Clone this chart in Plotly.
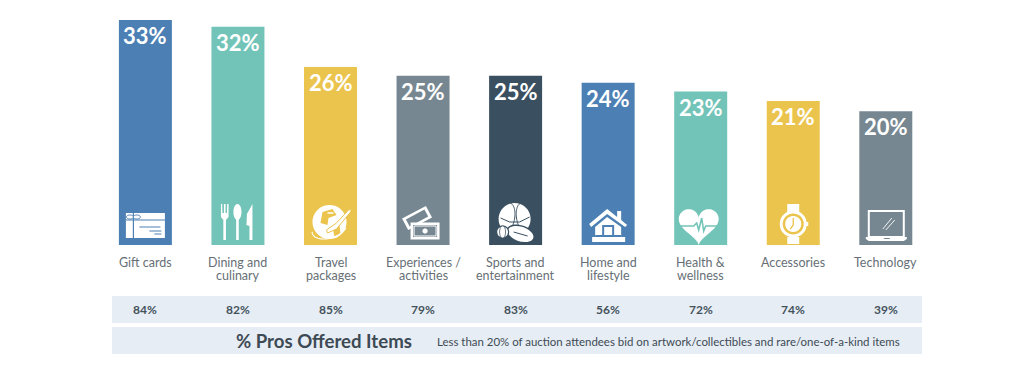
import math
import plotly.graph_objects as go

categories_line1 = ["Gift cards", "Dining and", "Travel", "Experiences /", "Sports and", "Home and", "Health &", "Accessories", "Technology"]
categories_line2 = ["", "culinary", "packages", "activities", "entertainment", "lifestyle", "wellness", "", ""]
bar_values = [33.0, 32.0, 26.1, 24.8, 24.8, 23.8, 22.5, 21.1, 19.6]
bar_labels = ["33%", "32%", "26%", "25%", "25%", "24%", "23%", "21%", "20%"]
pros_offered = ["84%", "82%", "85%", "79%", "83%", "56%", "72%", "74%", "39%"]
colors = ["#4c80b4", "#73c4b8", "#ebc44e", "#778791", "#3a5060", "#4c80b4", "#73c4b8", "#ebc44e", "#778791"]
footer_title = "% Pros Offered Items"
footer_note = "Less than 20% of auction attendees bid on artwork/collectibles and rare/one-of-a-kind items"

# the page puts the figure 8px in from the top-left corner of the window
OFF = 8
W, H, BASE = 1024 - OFF, 378 - OFF, 245 - OFF
PX_X = 92.55
X0 = 145.4 - OFF
PX_Y = 6.82
FONT = "Lato"
WHITE = "#ffffff"
xs = list(range(len(categories_line1)))
shapes = []


def paper_y(py):
    return (BASE - (py - OFF)) / BASE


def paper_x(px):
    return (px - OFF) / W


def add(i, pts, fill=WHITE, stroke=None, width=0, closed=True, cy=226 - OFF):
    d = "M" + " L".join(f"{x:.2f},{-y:.2f}" for x, y in pts) + (" Z" if closed else "")
    shapes.append(dict(type="path", path=d, xref="x", yref="y", xsizemode="pixel", ysizemode="pixel",
                       xanchor=i, yanchor=(BASE - cy) / PX_Y, layer="above",
                       fillcolor=fill if closed else "rgba(0,0,0,0)",
                       line=dict(color=stroke or "rgba(0,0,0,0)", width=width)))


def rect(x0, y0, x1, y1):
    return [(x0, y0), (x1, y0), (x1, y1), (x0, y1)]


def ell(cx, cy, rx, ry=None, a0=0, a1=360, rot=0):
    ry = rx if ry is None else ry
    out = []
    n = 40
    for k in range(n + 1):
        t = math.radians(a0 + (a1 - a0) * k / n)
        x, y = rx * math.cos(t), ry * math.sin(t)
        r = math.radians(rot)
        out.append((cx + x * math.cos(r) - y * math.sin(r), cy + x * math.sin(r) + y * math.cos(r)))
    return out


def rot_rect(cx, cy, w, h, deg):
    r = math.radians(deg)
    return [(cx + x * math.cos(r) - y * math.sin(r), cy + x * math.sin(r) + y * math.cos(r))
            for x, y in rect(-w / 2, -h / 2, w / 2, h / 2)]


# 0 gift card
c = colors[0]
add(0, rect(-19.5, -13, 19.5, 12))
add(0, [(-12, -13), (-12, 12)], stroke=c, width=1.2, closed=False)
add(0, [(-19.5, -6), (19.5, -6)], stroke=c, width=1.2, closed=False)
add(0, ell(-15.5, -9, 3.5, 2), fill=WHITE, stroke=c, width=1)
add(0, ell(-8.5, -9, 3.5, 2), fill=WHITE, stroke=c, width=1)
add(0, [(-6, 1), (15, 1)], stroke=c, width=1, closed=False)
add(0, [(4, 5), (16, 5)], stroke=c, width=1, closed=False)
add(0, [(9, 8), (16, 8)], stroke=c, width=1, closed=False)

# 1 cutlery
add(1, [(-17, -22), (-15.8, -22), (-15.5, -13), (-14, -13), (-14, -22), (-12.4, -22), (-12.4, -13), (-11, -13),
        (-10.8, -22), (-9.4, -22), (-9.4, -9), (-12, -6), (-12, 14), (-14.6, 14), (-14.6, -6), (-17, -9)])
add(1, ell(-0.5, -14, 4, 8))
add(1, rect(-1.8, -8, 0.8, 14))
add(1, [(14.5, -22), (14.5, 14), (11.5, 14), (11.5, 0), (8.5, -1), (9, -12)])

# 2 globe
c = colors[2]
add(2, ell(-1, -4, 17))
add(2, [(-8, -14), (2, -17), (6, -11), (-2, -8), (-3, -1), (-10, -3)], fill=c)
add(2, [(2, 1), (9, -2), (10, 8), (4, 11)], fill=c)
add(2, [(-3, -13), (3, -13)], stroke=WHITE, width=1.5, closed=False)
add(2, [(-3, 7), (6, 3), (20, -14), (21, -17), (18, -16), (6, -3), (-4, 4)], fill=WHITE, stroke=c, width=1)
add(2, ell(-1, 2, 18, 10, 30, 190, -18), stroke=WHITE, width=1.2, closed=False)

# 3 tickets
c = colors[3]
add(3, rot_rect(-6, -8, 27, 13, -28), fill=WHITE)
add(3, rot_rect(-6, -8, 21, 8, -28), fill=c)
add(3, rot_rect(2, 5, 29, 17, 0), fill=WHITE)
add(3, rot_rect(2, 5, 24, 12, 0), fill=c)
add(3, rect(-9, 0, 13, 10), fill=c, stroke=WHITE, width=1)
add(3, ell(2, 5, 2.6), fill=WHITE)

# 4 sports balls
c = colors[4]
add(4, ell(-1, -7, 16))
add(4, [(-15, -8), (-6, -4), (4, -4), (14, -9)], stroke=c, width=1, closed=False)
add(4, ell(-8, -8, 7, 15, -90, 90, 10), stroke=c, width=1, closed=False)
add(4, ell(8, -8, 7, 15, 90, 270, -10), stroke=c, width=1, closed=False)
add(4, ell(5, 8, 14, 8, rot=18), fill=WHITE, stroke=c, width=1.4)
add(4, [(-2, 6), (12, 10)], stroke=c, width=1, closed=False)
add(4, ell(-13, 6, 6), fill=WHITE, stroke=c, width=1.2)
add(4, ell(-13, 6, 3, 6), fill=WHITE, stroke=c, width=0.8)

# 5 house
c = colors[5]
add(5, [(-19, -2), (-1, -17), (9, -9), (9, -15), (13, -15), (13, -6), (19, -1), (17, 1), (-1, -12), (-17, 1)])
add(5, [(-13, 1), (-1, -9), (13, 1), (13, 15), (-13, 15)])
add(5, rect(-6, -1, 6, 11), fill=c)
add(5, rect(-4, 1, 4, 11), fill=WHITE)
add(5, rect(-16, 11, 17, 16))
add(5, rect(-13, 9, 13, 11), fill=c)

# 6 heart
c = colors[6]
heart = []
for k in range(61):
    t = 2 * math.pi * k / 60
    heart.append((1.25 * 16 * math.sin(t) ** 3 - 2,
                  -1.25 * (13 * math.cos(t) - 5 * math.cos(2 * t) - 2 * math.cos(3 * t) - math.cos(4 * t)) - 2))
add(6, heart)
add(6, [(-20, 0), (-7, 0), (-4, -3), (-2, 4), (1, -8), (3, 5), (5, 0), (17, 0)], stroke=c, width=1.6, closed=False)

# 7 watch
c = colors[7]
add(7, rect(-6, -22, 6, -13))
add(7, rect(-6, 11, 6, 18))
add(7, ell(0, -2, 13.5))
add(7, ell(0, -2, 10.5), fill=c)
add(7, ell(0, -2, 8))
add(7, [(0, -8), (0, -1), (-3, 3)], stroke=c, width=1.3, closed=False)
add(7, rect(13, -4, 15, 0))

# 8 laptop
c = colors[8]
add(8, rect(-17, -15, 18, 11), fill=c, stroke=WHITE, width=2)
add(8, [(-20, 11), (21, 11), (21, 13), (18, 15), (-17, 15), (-20, 13)])
add(8, [(-3, 3), (6, -8)], stroke=WHITE, width=0.9, closed=False)
add(8, [(0, 4), (9, -6)], stroke=WHITE, width=0.9, closed=False)
add(8, rect(-2, 12, 4, 13), fill=c)

# footer bands
for y0, y1 in ((296, 323), (327, 354)):
    shapes.append(dict(type="rect", xref="paper", yref="paper", x0=paper_x(112), x1=paper_x(922),
                       y0=paper_y(y1), y1=paper_y(y0), fillcolor="#e6edf4", line=dict(width=0), layer="below"))

annotations = []
for i, lab in enumerate(bar_labels):
    annotations.append(dict(x=i, y=bar_values[i], xref="x", yref="y", text=f"<b>{lab}</b>", showarrow=False,
                            xanchor="center", yanchor="top", yshift=0, font=dict(family=FONT, size=22, color=WHITE)))
for i, (l1, l2) in enumerate(zip(categories_line1, categories_line2)):
    annotations.append(dict(x=i, y=paper_y(262), xref="x", yref="paper", text=l1, showarrow=False,
                            xanchor="center", yanchor="middle", font=dict(family=FONT, size=12.5, color="#666f76")))
    if l2:
        annotations.append(dict(x=i, y=paper_y(275), xref="x", yref="paper", text=l2, showarrow=False,
                                xanchor="center", yanchor="middle", font=dict(family=FONT, size=12.5, color="#666f76")))
for i, lab in enumerate(pros_offered):
    annotations.append(dict(x=i, y=paper_y(309.5), xref="x", yref="paper", text=f"<b>{lab}</b>", showarrow=False,
                            xanchor="center", yanchor="middle", font=dict(family=FONT, size=12, color="#44525c")))
annotations.append(dict(x=paper_x(324), y=paper_y(341), xref="paper", yref="paper", text=f"<b>{footer_title}</b>",
                        showarrow=False, xanchor="center", yanchor="middle", font=dict(family=FONT, size=18.6, color="#3d4a54")))
annotations.append(dict(x=paper_x(668), y=paper_y(341), xref="paper", yref="paper", text=footer_note,
                        showarrow=False, xanchor="center", yanchor="middle", font=dict(family=FONT, size=11.45, color="#3d4a54")))

fig = go.Figure(go.Bar(x=xs, y=bar_values, marker=dict(color=colors, line=dict(width=0)), width=53 / PX_X,
                       hoverinfo="skip"))
fig.update_layout(
    width=W, height=H, margin=dict(l=0, r=0, t=0, b=H - BASE), paper_bgcolor="white", plot_bgcolor="white",
    showlegend=False, shapes=shapes, annotations=annotations,
    xaxis=dict(range=[-X0 / PX_X, (W - X0) / PX_X], showticklabels=False,
               showgrid=False, zeroline=False, showline=False, ticks=""),
    yaxis=dict(range=[0, BASE / PX_Y], visible=False, fixedrange=True),
)
fig.write_html("out.html", config=dict(displayModeBar=False))
